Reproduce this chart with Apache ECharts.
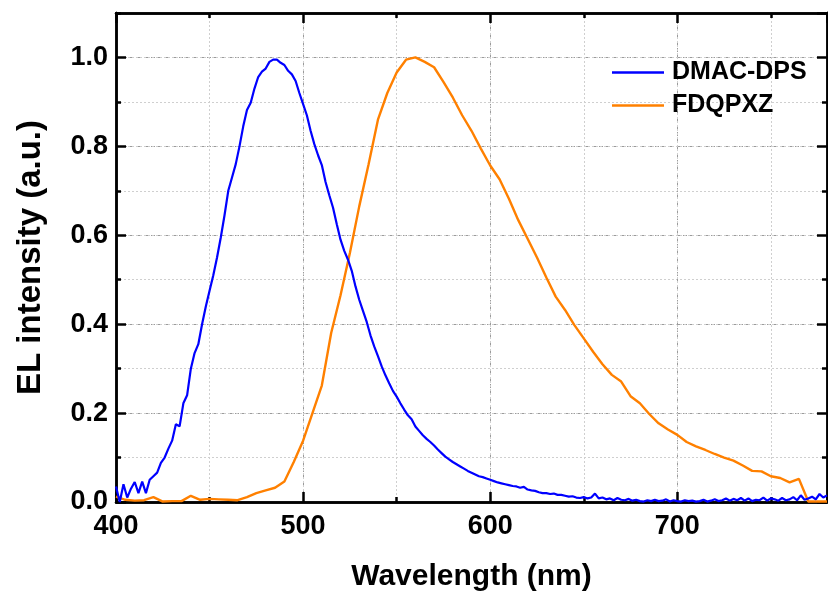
<!DOCTYPE html>
<html>
<head>
<meta charset="utf-8">
<script src="https://cdn.jsdelivr.net/npm/echarts@6/dist/echarts.min.js"></script>
<style>
  html, body { margin: 0; padding: 0; background: #fff; }
  #main { width: 828px; height: 592px; }
</style>
</head>
<body>
<div id="main"></div>
<script>
// DMAC-DPS, read every 2 nm
var blueStart = 400, blueStep = 2;
var blueValues = [
  0.035, 0.0, 0.04, 0.01, 0.03, 0.045, 0.02, 0.046, 0.02, 0.05,
  0.058, 0.066, 0.088, 0.1, 0.12, 0.138, 0.175, 0.17, 0.222, 0.24,
  0.3, 0.335, 0.355, 0.4, 0.44, 0.475, 0.51, 0.55, 0.595, 0.645,
  0.7, 0.73, 0.76, 0.8, 0.845, 0.882, 0.898, 0.93, 0.956, 0.968,
  0.975, 0.99, 0.995, 0.995, 0.988, 0.983, 0.97, 0.962, 0.947, 0.92,
  0.895, 0.87, 0.835, 0.805, 0.78, 0.758, 0.72, 0.69, 0.662, 0.625,
  0.59, 0.565, 0.545, 0.52, 0.485, 0.455, 0.43, 0.405, 0.375, 0.35,
  0.328, 0.305, 0.285, 0.267, 0.25, 0.237, 0.222, 0.208, 0.195, 0.186,
  0.17, 0.16, 0.15, 0.142, 0.135, 0.127, 0.118, 0.11, 0.102, 0.096,
  0.09, 0.085, 0.08, 0.075, 0.07, 0.066, 0.062, 0.058, 0.056, 0.053,
  0.05, 0.047, 0.044, 0.042, 0.04, 0.038, 0.036, 0.035, 0.032, 0.034,
  0.028, 0.026, 0.025, 0.022, 0.02, 0.02, 0.018, 0.019, 0.016, 0.016,
  0.014, 0.012, 0.013, 0.01, 0.009, 0.011, 0.008, 0.01, 0.019, 0.008,
  0.01, 0.006, 0.008, 0.004, 0.009, 0.005, 0.004, 0.007, 0.003, 0.005,
  0.002, 0.001, 0.004, 0.002, 0.005, 0.002, 0.003, 0.006, 0.001, 0.004,
  0.002, 0.001, 0.004, 0.002, 0.003, 0.001, 0.002, 0.005, 0.001, 0.003,
  0.006, 0.002, 0.004, 0.008, 0.003, 0.007, 0.004, 0.009, 0.003, 0.008,
  0.002, 0.005, 0.004, 0.01, 0.003, 0.008, 0.006, 0.003, 0.009, 0.004,
  0.006, 0.011, 0.004, 0.015, 0.005, 0.008, 0.012, 0.006, 0.018, 0.01,
  0.015
];

// FDQPXZ, read every 5 nm
var orangeStart = 400, orangeStep = 5;
var orangeValues = [
  0.012, 0.005, 0.003, 0.004, 0.011, 0.001, 0.002, 0.002, 0.014, 0.005,
  0.007, 0.006, 0.005, 0.004, 0.011, 0.02, 0.026, 0.032, 0.046, 0.09,
  0.138, 0.2, 0.262, 0.38, 0.465, 0.56, 0.665, 0.76, 0.86, 0.92,
  0.966, 0.995, 1.0, 0.99, 0.978, 0.945, 0.91, 0.87, 0.835, 0.795,
  0.757, 0.726, 0.682, 0.634, 0.592, 0.55, 0.505, 0.462, 0.432, 0.398,
  0.368, 0.338, 0.31, 0.286, 0.271, 0.238, 0.222, 0.198, 0.177, 0.163,
  0.151, 0.135, 0.125, 0.117, 0.108, 0.1, 0.093, 0.082, 0.07, 0.069,
  0.058, 0.054, 0.044, 0.052, 0.001, 0.001, 0.001
];

var seriesNames = ['DMAC-DPS', 'FDQPXZ'];

function pairs(start, step, values) {
    return values.map(function (v, i) { return [start + i * step, v]; });
}

var font = '"Liberation Sans", Arial, sans-serif';
var majorGrid = { show: true, lineStyle: { color: '#9a9a9a', type: [4, 3], width: 1 } };
var minorGrid = { show: true, lineStyle: { color: '#cfcfcf', type: [2, 2], width: 1 } };
var frame = { show: true, onZero: false, lineStyle: { color: '#000', width: 2.5 } };

function xAxisDef(pos, interval, tickLen, labels, grid, name) {
    return {
        type: 'value', position: pos, min: 400, max: 780, interval: interval,
        name: name || '', nameLocation: 'middle', nameGap: 60,
        nameTextStyle: { fontFamily: font, fontWeight: 'bold', fontSize: 30, color: '#000' },
        axisLine: frame,
        axisTick: { show: true, inside: true, length: tickLen, lineStyle: { color: '#000', width: 2.5 } },
        axisLabel: { show: labels, showMaxLabel: false, margin: 11, fontFamily: font, fontWeight: 'bold', fontSize: 27, color: '#000' },
        splitLine: grid ? Object.assign({ showMinLine: false, showMaxLine: false }, grid) : { show: false }
    };
}

function yAxisDef(pos, interval, tickLen, labels, grid, name) {
    return {
        type: 'value', position: pos, min: 0, max: 1.1, interval: interval,
        name: name || '', nameLocation: 'middle', nameGap: 69,
        nameTextStyle: { fontFamily: font, fontWeight: 'bold', fontSize: 33, color: '#000' },
        axisLine: frame,
        axisTick: { show: true, inside: true, length: tickLen, lineStyle: { color: '#000', width: 2.5 } },
        axisLabel: {
            show: labels, showMaxLabel: false, margin: 8, fontFamily: font, fontWeight: 'bold', fontSize: 27, color: '#000',
            formatter: function (v) { return v.toFixed(1); }
        },
        splitLine: grid ? Object.assign({ showMinLine: false, showMaxLine: false }, grid) : { show: false }
    };
}

var myChart = echarts.init(document.getElementById('main'));
var option = {
    backgroundColor: '#fff',
    animation: false,
    grid: { left: 116, right: 1, top: 13, bottom: 90, outerBoundsMode: 'none', containLabel: false },
    legend: {
        orient: 'vertical', left: 612, top: 60, padding: 0,
        itemWidth: 52, itemHeight: 2.5, itemGap: 8,
        icon: 'path://M0,0 L52,0 L52,2.5 L0,2.5 Z',
        data: seriesNames,
        textStyle: { fontFamily: font, fontWeight: 'bold', fontSize: 25, color: '#000', lineHeight: 25, padding: [0, 0, 0, 3] }
    },
    xAxis: [
        xAxisDef('bottom', 100, 10, true, majorGrid, 'Wavelength (nm)'),
        xAxisDef('bottom', 50, 5, false, minorGrid),
        xAxisDef('top', 100, 10, false, null),
        xAxisDef('top', 50, 5, false, null)
    ],
    yAxis: [
        yAxisDef('left', 0.2, 10, true, majorGrid, 'EL intensity (a.u.)'),
        yAxisDef('left', 0.1, 5, false, minorGrid),
        yAxisDef('right', 0.2, 10, false, null),
        yAxisDef('right', 0.1, 5, false, null)
    ],
    series: [
        {
            name: seriesNames[0], type: 'line', symbol: 'none', z: 3,
            xAxisIndex: 0, yAxisIndex: 0,
            lineStyle: { color: '#0000ff', width: 2.2 },
            itemStyle: { color: '#0000ff' },
            data: pairs(blueStart, blueStep, blueValues)
        },
        {
            name: seriesNames[1], type: 'line', symbol: 'none', z: 2,
            xAxisIndex: 0, yAxisIndex: 0,
            lineStyle: { color: '#ff8000', width: 2.4 },
            itemStyle: { color: '#ff8000' },
            data: pairs(orangeStart, orangeStep, orangeValues)
        }
    ]
};
myChart.setOption(option);
window.addEventListener('resize', function () {
    myChart.resize();
});
</script>
</body>
</html>
